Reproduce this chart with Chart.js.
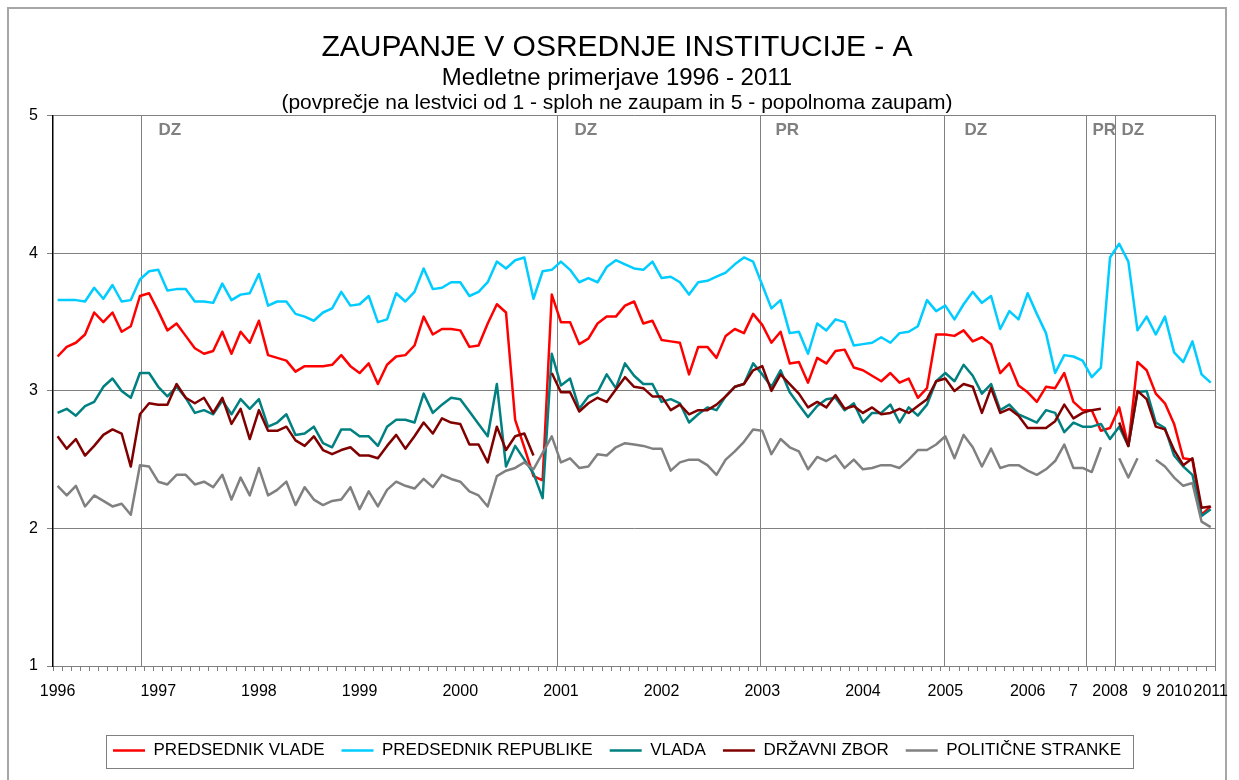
<!DOCTYPE html>
<html>
<head>
<meta charset="utf-8">
<script src="https://cdn.jsdelivr.net/npm/chart.js@4.4.1/dist/chart.umd.min.js"></script>
<style>
  html, body { margin: 0; padding: 0; background: #fff; }
</style>
</head>
<body>
<canvas id="grafico" width="1239" height="780"></canvas>
<script>
// prvi anketni val vsakega leta (indeks kategorije) in oznaka pod osjo
const letoZacetek = [0, 11, 22, 33, 44, 55, 66, 77, 88, 97, 106, 111, 115, 119, 122, 126];
const letoOznake = ["1996", "1997", "1998", "1999", "2000", "2001", "2002", "2003", "2004", "2005", "2006", "7", "2008", "9", "2010", "2011"];
const steviloValov = 127;

// volitve (polozaj na osi kategorij)
const volitve = [9.1, 54.6, 76.8, 96.9, 112.4, 115.5];
const volitveOznake = ["DZ", "DZ", "PR", "DZ", "PR", "DZ"];

const predsednikVlade = [
  3.25, 3.32, 3.35, 3.41, 3.57, 3.50, 3.57, 3.43, 3.47, 3.69,
  3.71, 3.58, 3.44, 3.49, 3.40, 3.31, 3.27, 3.29, 3.43, 3.27,
  3.43, 3.35, 3.51, 3.26, 3.24, 3.22, 3.14, 3.18, 3.18, 3.18,
  3.19, 3.26, 3.18, 3.13, 3.20, 3.05, 3.19, 3.25, 3.26, 3.33,
  3.54, 3.41, 3.45, 3.45, 3.44, 3.32, 3.33, 3.49, 3.63, 3.57,
  2.79, 2.59, 2.38, 2.35, 3.70, 3.50, 3.50, 3.34, 3.38, 3.49,
  3.54, 3.54, 3.62, 3.65, 3.49, 3.51, 3.37, 3.36, 3.35, 3.12,
  3.32, 3.32, 3.24, 3.40, 3.45, 3.42, 3.56, 3.48, 3.35, 3.43,
  3.20, 3.21, 3.06, 3.24, 3.20, 3.29, 3.30, 3.17, 3.15, 3.11,
  3.07, 3.13, 3.06, 3.09, 2.95, 3.02, 3.41, 3.41, 3.40, 3.44,
  3.36, 3.39, 3.34, 3.13, 3.20, 3.04, 2.99, 2.92, 3.03, 3.02,
  3.13, 2.92, 2.86, 2.86, 2.71, 2.73, 2.88, 2.60, 3.21, 3.15,
  2.98, 2.91, 2.76, 2.51, 2.50, 2.10, 2.16
];
const predsednikRepublike = [
  3.66, 3.66, 3.66, 3.65, 3.75, 3.67, 3.77, 3.65, 3.66, 3.81,
  3.87, 3.88, 3.73, 3.74, 3.74, 3.65, 3.65, 3.64, 3.78, 3.66,
  3.70, 3.71, 3.85, 3.62, 3.65, 3.65, 3.56, 3.54, 3.51, 3.57,
  3.60, 3.72, 3.62, 3.63, 3.69, 3.50, 3.52, 3.71, 3.65, 3.72,
  3.89, 3.74, 3.75, 3.79, 3.79, 3.69, 3.72, 3.79, 3.94, 3.89,
  3.95, 3.97, 3.67, 3.87, 3.88, 3.94, 3.88, 3.79, 3.82, 3.79,
  3.90, 3.95, 3.92, 3.89, 3.88, 3.94, 3.82, 3.83, 3.79, 3.70,
  3.79, 3.80, 3.83, 3.86, 3.92, 3.97, 3.94, 3.77, 3.60, 3.66,
  3.42, 3.43, 3.27, 3.49, 3.44, 3.52, 3.50, 3.33, 3.34, 3.35,
  3.39, 3.35, 3.42, 3.43, 3.47, 3.66, 3.58, 3.62, 3.52, 3.63,
  3.72, 3.64, 3.69, 3.45, 3.58, 3.52, 3.71, 3.56, 3.42, 3.13,
  3.26, 3.25, 3.22, 3.10, 3.17, 3.97, 4.07, 3.94, 3.44, 3.54,
  3.41, 3.54, 3.28, 3.21, 3.36, 3.12, 3.06
];
const vlada = [
  2.84, 2.87, 2.82, 2.89, 2.92, 3.03, 3.09, 3.00, 2.95, 3.13,
  3.13, 3.03, 2.96, 3.03, 2.95, 2.84, 2.86, 2.83, 2.93, 2.83,
  2.94, 2.87, 2.94, 2.74, 2.77, 2.83, 2.68, 2.69, 2.74, 2.62,
  2.59, 2.72, 2.72, 2.67, 2.67, 2.60, 2.74, 2.79, 2.79, 2.77,
  2.98, 2.84, 2.90, 2.95, 2.94, 2.85, 2.76, 2.67, 3.05, 2.45,
  2.60, 2.50, 2.40, 2.22, 3.27, 3.04, 3.09, 2.87, 2.96, 2.99,
  3.12, 3.02, 3.20, 3.11, 3.05, 3.05, 2.92, 2.94, 2.91, 2.77,
  2.83, 2.88, 2.86, 2.96, 3.03, 3.05, 3.20, 3.12, 3.03, 3.15,
  2.99, 2.90, 2.81, 2.89, 2.94, 2.95, 2.86, 2.91, 2.77, 2.84,
  2.84, 2.90, 2.77, 2.88, 2.82, 2.90, 3.07, 3.13, 3.07, 3.19,
  3.11, 2.98, 3.05, 2.86, 2.90, 2.83, 2.80, 2.77, 2.86, 2.84,
  2.70, 2.77, 2.74, 2.74, 2.76, 2.65, 2.74, 2.60, 2.99, 3.00,
  2.77, 2.73, 2.53, 2.45, 2.39, 2.09, 2.14
];
const drzavniZbor = [
  2.67, 2.58, 2.65, 2.53, 2.60, 2.68, 2.72, 2.69, 2.45, 2.83,
  2.91, 2.90, 2.90, 3.05, 2.95, 2.91, 2.95, 2.84, 2.95, 2.76,
  2.87, 2.65, 2.86, 2.71, 2.71, 2.74, 2.64, 2.60, 2.67, 2.57,
  2.54, 2.57, 2.59, 2.53, 2.53, 2.51, 2.60, 2.68, 2.58, 2.67,
  2.77, 2.69, 2.80, 2.77, 2.76, 2.61, 2.61, 2.48, 2.74, 2.57,
  2.67, 2.69, 2.53, null, 3.13, 2.99, 2.99, 2.85, 2.91, 2.95,
  2.92, 3.01, 3.10, 3.03, 3.02, 2.96, 2.96, 2.86, 2.90, 2.83,
  2.86, 2.86, 2.90, 2.96, 3.03, 3.05, 3.15, 3.18, 3.00, 3.12,
  3.05, 2.98, 2.88, 2.92, 2.88, 2.97, 2.87, 2.89, 2.84, 2.88,
  2.83, 2.84, 2.87, 2.84, 2.89, 2.94, 3.07, 3.09, 3.00, 3.05,
  3.03, 2.84, 3.02, 2.84, 2.87, 2.82, 2.73, 2.73, 2.73, 2.78,
  2.90, 2.80, 2.84, 2.86, 2.87, null, 2.77, 2.60, 3.00, 2.94,
  2.74, 2.72, 2.57, 2.46, 2.51, 2.15, 2.16
];
const politicneStranke = [
  2.31, 2.24, 2.31, 2.16, 2.24, 2.20, 2.16, 2.18, 2.10, 2.46,
  2.45, 2.34, 2.32, 2.39, 2.39, 2.32, 2.34, 2.30, 2.39, 2.21,
  2.37, 2.24, 2.44, 2.24, 2.28, 2.34, 2.17, 2.30, 2.21, 2.17,
  2.20, 2.21, 2.30, 2.14, 2.27, 2.16, 2.28, 2.34, 2.31, 2.29,
  2.36, 2.30, 2.39, 2.36, 2.34, 2.27, 2.24, 2.16, 2.38, 2.42,
  2.44, 2.48, 2.43, 2.55, 2.67, 2.48, 2.51, 2.44, 2.45, 2.54,
  2.53, 2.59, 2.62, 2.61, 2.60, 2.58, 2.58, 2.42, 2.48, 2.50,
  2.50, 2.46, 2.39, 2.50, 2.56, 2.63, 2.72, 2.71, 2.54, 2.65,
  2.59, 2.56, 2.43, 2.52, 2.49, 2.53, 2.44, 2.50, 2.43, 2.44,
  2.46, 2.46, 2.44, 2.50, 2.57, 2.57, 2.61, 2.67, 2.51, 2.68,
  2.59, 2.45, 2.58, 2.44, 2.46, 2.46, 2.42, 2.39, 2.43, 2.49,
  2.61, 2.44, 2.44, 2.41, 2.59, null, 2.51, 2.37, 2.51, null,
  2.50, 2.45, 2.37, 2.31, 2.33, 2.05, 2.01
];

const oznake = Array.from({ length: steviloValov }, (_, i) => {
    const k = letoZacetek.indexOf(i);
    return k >= 0 ? letoOznake[k] : "";
});

const pisava = "'Liberation Sans', Arial, sans-serif";

function serija(label, data, barva, vrstni) {
    return {
        label: label,
        data: data,
        borderColor: barva,
        backgroundColor: barva,
        borderWidth: 2.5,
        pointRadius: 0,
        tension: 0,
        spanGaps: false,
        borderJoinStyle: "round",
        order: vrstni
    };
}

const okvir = {
    id: "okvir",
    beforeDraw(chart) {
        const ctx = chart.ctx;
        ctx.save();
        ctx.strokeStyle = "#a6a6a6";
        ctx.lineWidth = 2;
        ctx.strokeRect(8, 8, 1218, 800);
        ctx.restore();
    },
    afterDraw(chart) {
        const ctx = chart.ctx;
        ctx.save();
        // tretja vrstica naslova
        ctx.fillStyle = "#000";
        ctx.font = "21px " + pisava;
        ctx.textAlign = "center";
        ctx.textBaseline = "middle";
        ctx.fillText("(povprečje na lestvici od 1 - sploh ne zaupam in 5 - popolnoma zaupam)",
            (chart.titleBlock.left + chart.titleBlock.right) / 2, chart.chartArea.top - 13);
        // okvir legende
        const hb = chart.legend.legendHitBoxes;
        if (hb && hb.length) {
            const l = hb[0].left - 7;
            const zadnji = hb[hb.length - 1];
            const r = zadnji.left + zadnji.width + 12;
            const cy = hb[0].top + hb[0].height / 2;
            ctx.strokeStyle = "#808080";
            ctx.lineWidth = 1;
            ctx.strokeRect(Math.round(l) + 0.5, Math.round(cy - 16) + 0.5, Math.round(r - l), 33);
        }
        ctx.restore();
    }
};

const dogodki = {
    id: "dogodki",
    beforeDatasetsDraw(chart, args, opts) {
        const { ctx, chartArea } = chart;
        const x = chart.scales.x;
        ctx.save();
        ctx.strokeStyle = opts.color;
        ctx.fillStyle = opts.color;
        ctx.lineWidth = 1;
        ctx.font = opts.font;
        ctx.textBaseline = "middle";
        volitve.forEach((v, i) => {
            const px = Math.round(x.getPixelForValue(v)) + 0.5;
            ctx.beginPath();
            ctx.moveTo(px, chartArea.top);
            ctx.lineTo(px, chartArea.bottom);
            ctx.stroke();
            ctx.fillText(volitveOznake[i], px + opts.odmik[i], chartArea.top + 15);
        });
        ctx.restore();
    }
};

new Chart(document.getElementById("grafico"), {
    type: "line",
    data: {
        labels: oznake,
        datasets: [
            serija("PREDSEDNIK VLADE", predsednikVlade, "#FF0000", 5),
            serija("PREDSEDNIK REPUBLIKE", predsednikRepublike, "#00CCFF", 4),
            serija("VLADA", vlada, "#008080", 3),
            serija("DRŽAVNI ZBOR", drzavniZbor, "#800000", 2),
            serija("POLITIČNE STRANKE", politicneStranke, "#808080", 1)
        ]
    },
    options: {
        responsive: false,
        animation: false,
        events: [],
        layout: { padding: { left: 8, right: 13, top: 0, bottom: 11 } },
        scales: {
            x: {
                type: "category",
                offset: true,
                grid: {
                    display: true,
                    drawOnChartArea: false,
                    offset: true,
                    tickLength: 5,
                    color: "#808080"
                },
                border: { color: "#808080", width: 1 },
                ticks: {
                    autoSkip: false,
                    maxRotation: 0,
                    minRotation: 0,
                    padding: 11,
                    color: "#000",
                    font: { family: pisava, size: 16 }
                },
                afterFit(scale) { scale.height = 59; }
            },
            y: {
                min: 1,
                max: 5,
                ticks: {
                    stepSize: 1,
                    padding: 9,
                    color: "#000",
                    font: { family: pisava, size: 16 }
                },
                grid: { color: "#808080", lineWidth: 1, tickLength: 6 },
                border: { color: "#000", width: 1.5 },
                afterFit(scale) { scale.width = 45; }
            },
            desno: {
                position: "right",
                display: true,
                grid: { display: false },
                ticks: { display: false },
                border: { display: true, color: "#808080", width: 1 },
                afterFit(scale) { scale.width = 8; }
            }
        },
        plugins: {
            title: {
                display: true,
                text: "ZAUPANJE V OSREDNJE INSTITUCIJE - A",
                color: "#000",
                font: { family: pisava, size: 30, weight: "normal", lineHeight: 1.1 },
                padding: { top: 31, bottom: 0 }
            },
            subtitle: {
                display: true,
                text: "Medletne primerjave 1996 - 2011",
                color: "#000",
                font: { family: pisava, size: 24, weight: "normal" },
                padding: { top: 0, bottom: 23 }
            },
            legend: {
                position: "bottom",
                labels: {
                    usePointStyle: true,
                    pointStyle: "line",
                    pointStyleWidth: 32,
                    padding: 17,
                    color: "#000",
                    font: { family: pisava, size: 17 },
                    sort: (a, b) => a.datasetIndex - b.datasetIndex
                }
            },
            tooltip: { enabled: false },
            dogodki: {
                color: "#808080",
                font: "bold 17px " + pisava,
                odmik: [17, 17, 15, 20, 6, 6]
            }
        }
    },
    plugins: [okvir, dogodki]
});
</script>
</body>
</html>
